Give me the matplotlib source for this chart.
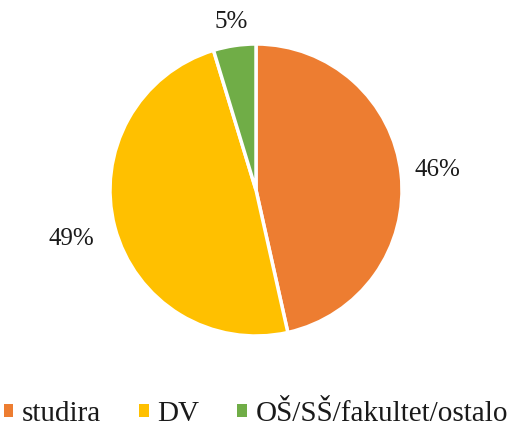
import numpy as np
import matplotlib.pyplot as plt

labels = ['studira', 'DV', 'OŠ/SŠ/fakultet/ostalo']
values = [46.5, 48.8, 4.7]
colors = ['#ED7D31', '#FFC000', '#70AD47']
label_dist = [1.25, 1.31, 1.16]

plt.rcParams['font.family'] = ['Liberation Serif', 'DejaVu Serif']

fig = plt.figure(figsize=(5.12, 4.29), dpi=100)
ax = fig.add_axes([(256 - 146) / 512, (429 - 336) / 429, 292 / 512, 292 / 429])

wedges, texts, autotexts = ax.pie(values, colors=colors, startangle=90, counterclock=False,
                                  autopct='%1.0f%%', pctdistance=1.0, radius=1,
                                  wedgeprops=dict(edgecolor='white', linewidth=2.5),
                                  textprops=dict(fontsize=18, color='#1a1a1a'))
for t, d in zip(autotexts, label_dist):
    x, y = t.get_position()
    t.set_position((x * d, y * d))

ax.set_xlim(-1, 1)
ax.set_ylim(-1, 1)

handles = [plt.Rectangle((0, 0), 1, 1, facecolor=c, edgecolor='none') for c in colors]
fig.legend(handles, labels, loc='center', bbox_to_anchor=(0.5, 0.035), ncol=3,
           frameon=False, fontsize=21, handlelength=0.32, handleheight=0.32,
           handletextpad=0.3, columnspacing=1.3, borderpad=0, borderaxespad=0,
           labelcolor='#1a1a1a')

fig.savefig('out.png', dpi=100)
